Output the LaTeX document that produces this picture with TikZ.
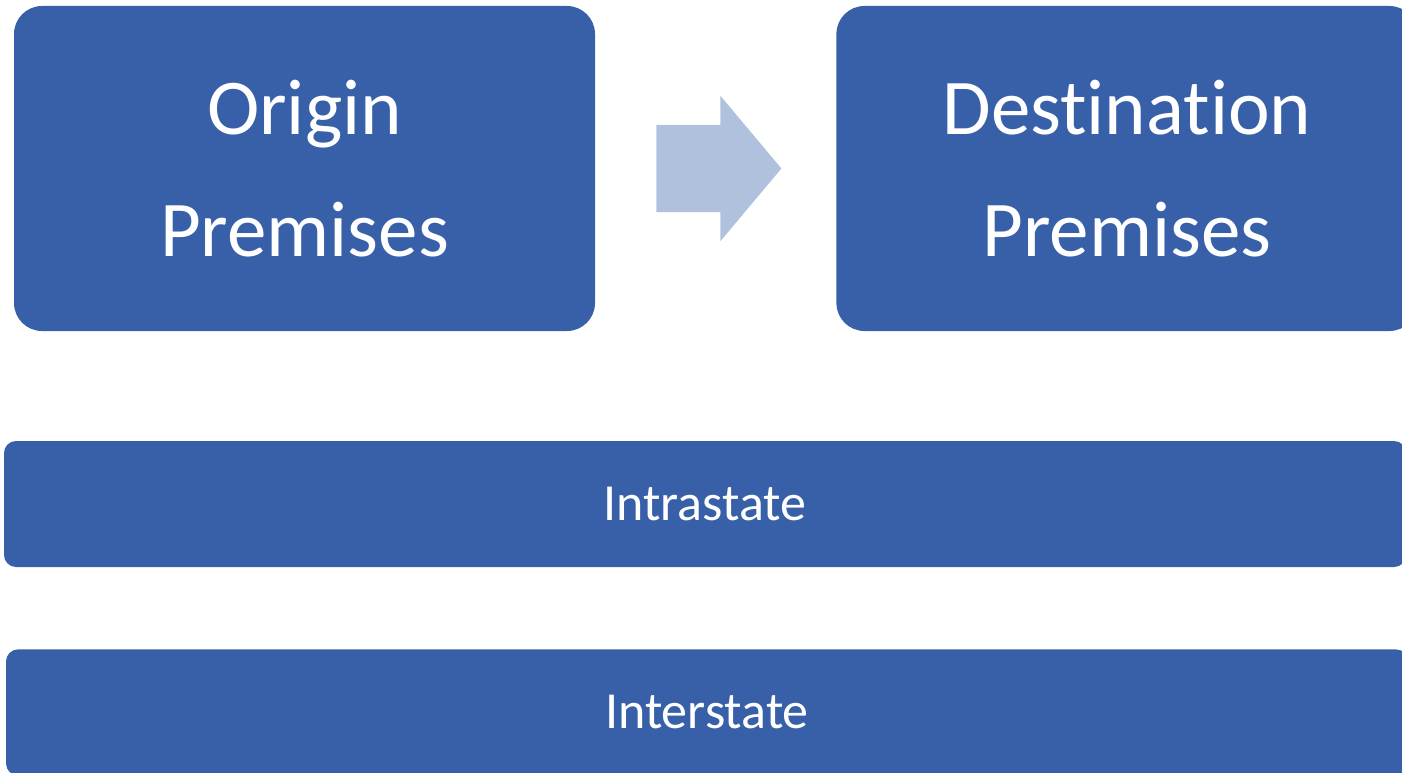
\documentclass[tikz,border=0pt]{standalone}
\usepackage{fontspec}
\setmainfont{Carlito}[Ligatures=NoCommon]
\usepackage{tikz}
\usetikzlibrary{positioning,shapes.arrows}
\definecolor{palBlue}{HTML}{3760A9}
\definecolor{palBlueLt}{HTML}{B0C1DD}
\tikzset{
  premnode/.style={fill=palBlue, rounded corners=28pt, minimum width=581pt,
                   minimum height=325pt, align=center, text=white,
                   font=\fontsize{79}{122}\selectfont, inner sep=0pt},
  barnode/.style={fill=palBlue, rounded corners=12pt, minimum width=1402pt,
                  minimum height=126pt, text=white,
                  font=\fontsize{52}{60}\selectfont, inner sep=0pt},
  blockarrow/.style={single arrow, fill=palBlueLt, minimum height=125pt,
                     inner xsep=0pt, inner ysep=43.5pt,
                     single arrow head extend=29pt, single arrow tip angle=100},
}
\begin{document}
\begin{tikzpicture}[x=1pt, y=-1pt]
\clip (0,0) rectangle (1402,773);
%% Nodes
\node[premnode] (orig) at (304.5,168.5) {Origin\\Premises};
\node[premnode, right=241pt of orig] (dest) {Destination\\Premises};
\node[blockarrow, anchor=tail] (move) at ([xshift=61pt]orig.east) {};
%% Bars
\node[barnode] (intra) at (705,504) {Intrastate};
\node[barnode, below=82pt of intra, xshift=2pt] (inter) {Interstate};
\end{tikzpicture}
\end{document}
